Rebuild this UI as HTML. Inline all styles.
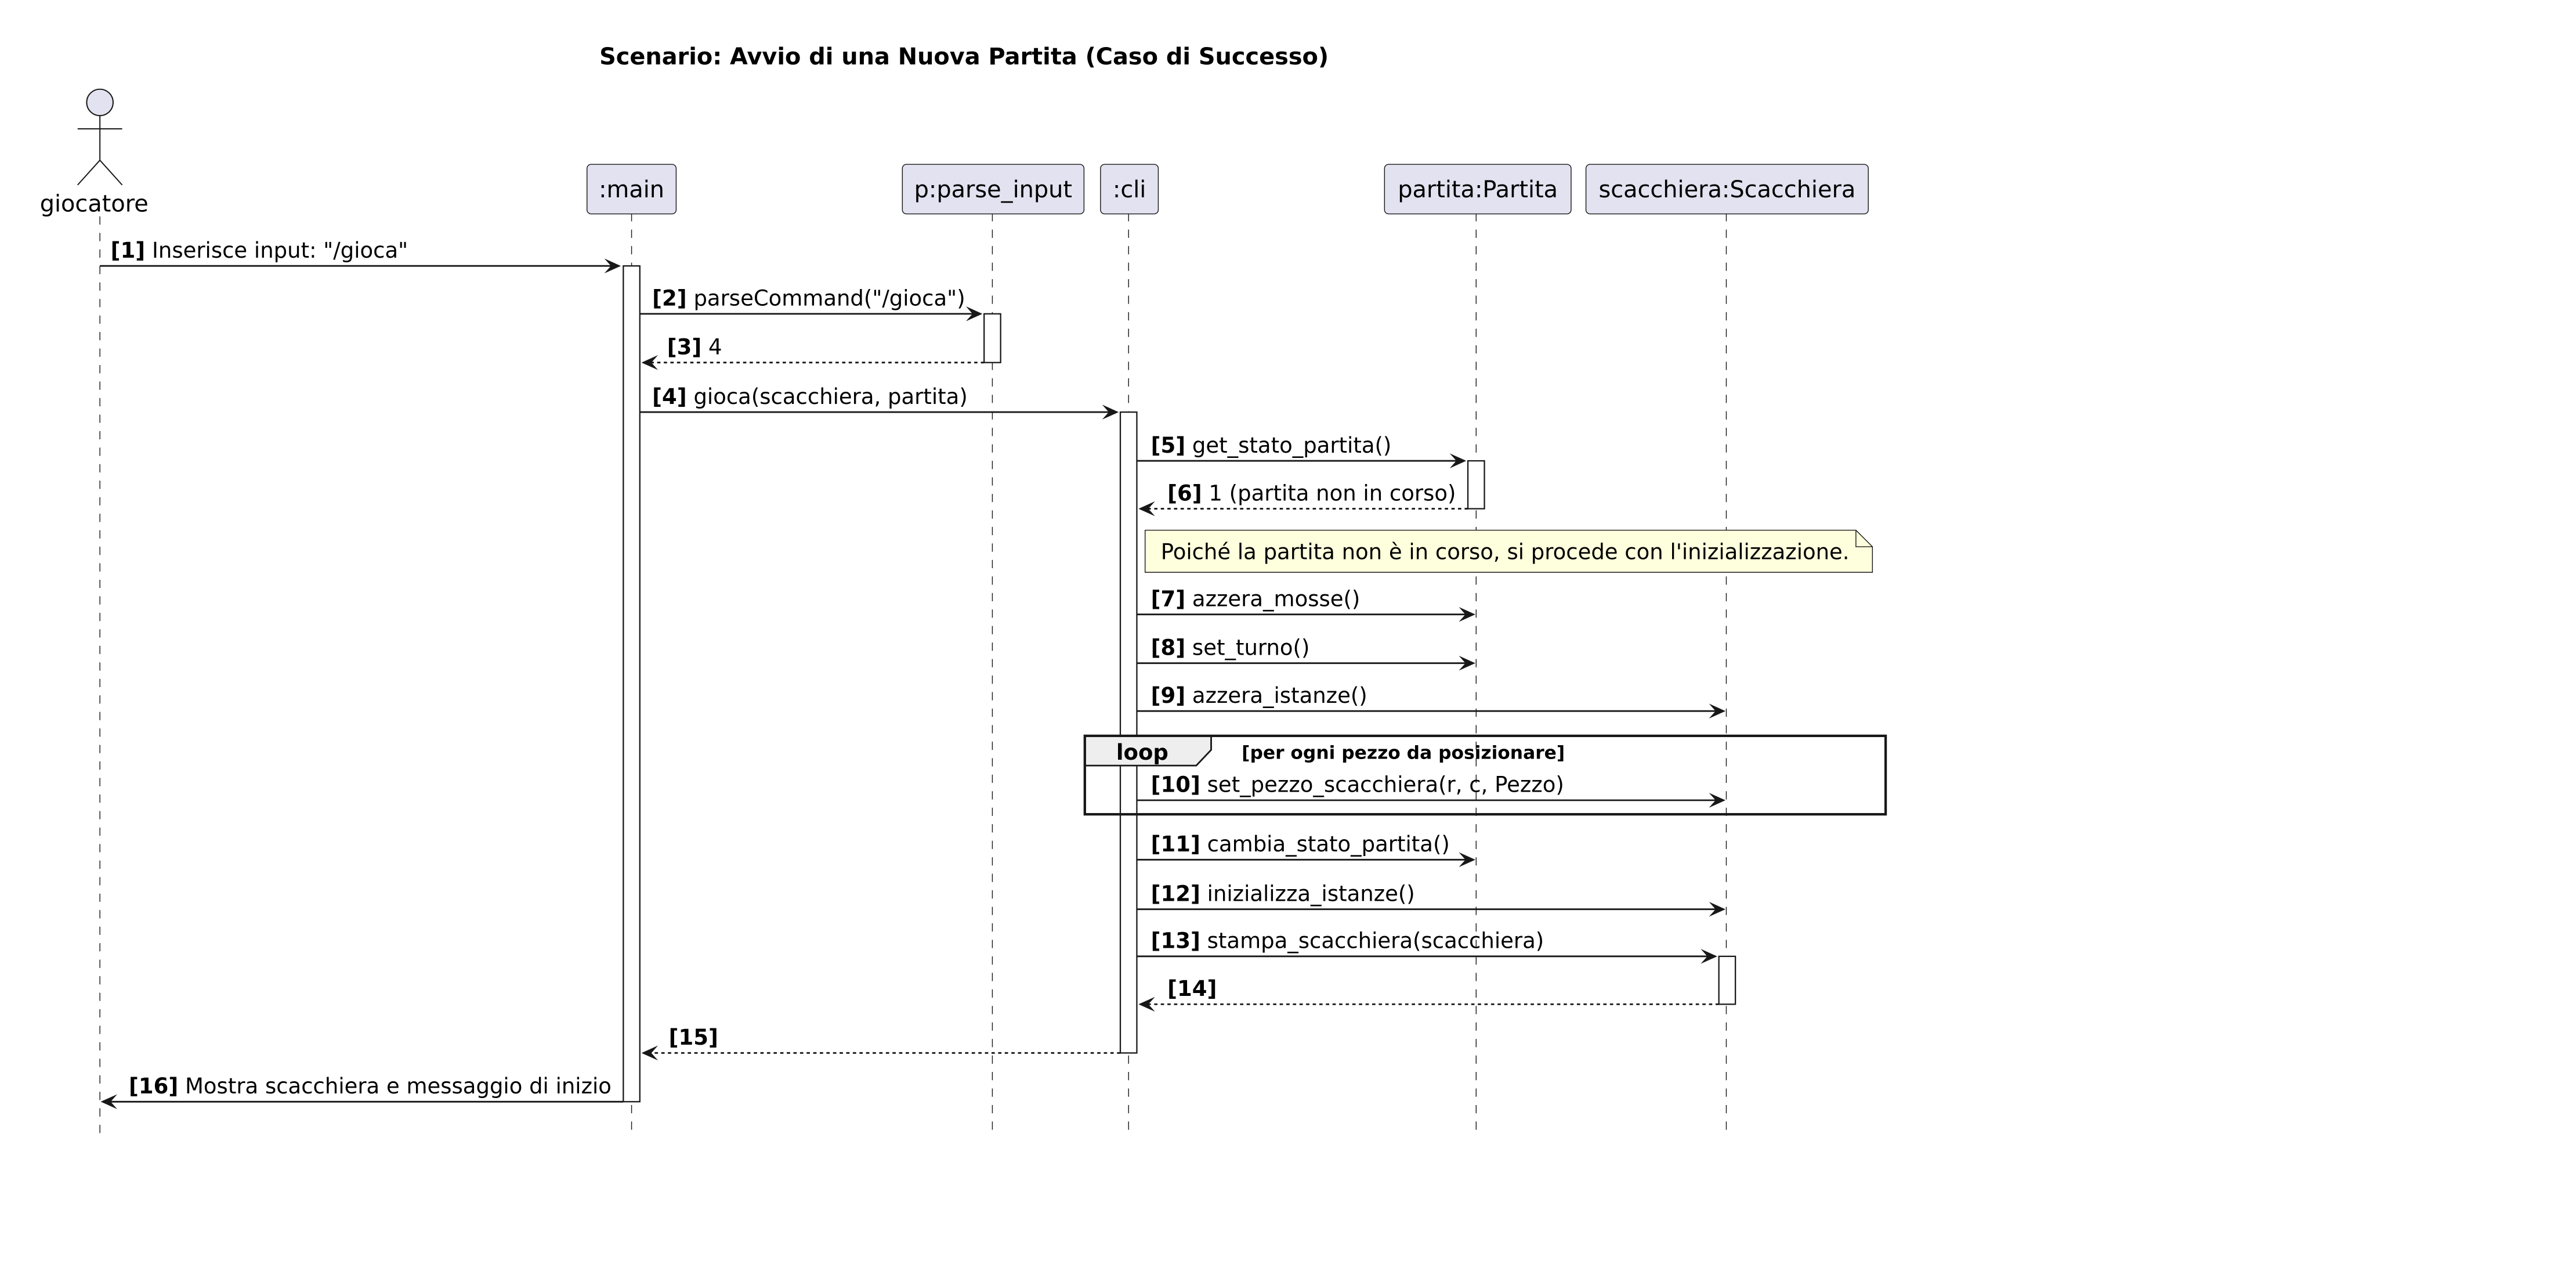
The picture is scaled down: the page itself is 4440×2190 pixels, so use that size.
<!DOCTYPE html>
<html><head><meta charset="utf-8"><style>
html,body{margin:0;padding:0;background:#fff;}
svg{display:block;}
text{font-family:"DejaVu Sans","Liberation Sans",sans-serif;fill:#000;}
</style></head><body>
<svg width="4440" height="2190" viewBox="0 0 1560.1 769.5" preserveAspectRatio="none" xmlns="http://www.w3.org/2000/svg">
<defs>
<g id="ahR"><polygon points="-10,-4.5 0,0 -10,4.5 -6,0" fill="#181818"/></g>
<g id="ahL"><polygon points="10,-4.5 0,0 10,4.5 6,0" fill="#181818"/></g>
</defs>
<rect width="1560.1" height="769.5" fill="#fff"/>
<text x="363" y="39" font-size="14" font-weight="bold">Scenario: Avvio di una Nuova Partita (Caso di Successo)</text>

<!-- lifelines -->
<g stroke="#181818" stroke-width="0.5" stroke-dasharray="5,5" fill="none">
<line x1="60.5" y1="131" x2="60.5" y2="686"/>
<line x1="382.5" y1="129" x2="382.5" y2="686"/>
<line x1="601" y1="129" x2="601" y2="686"/>
<line x1="683.5" y1="129" x2="683.5" y2="686"/>
<line x1="894" y1="129" x2="894" y2="686"/>
<line x1="1045.5" y1="129" x2="1045.5" y2="686"/>
</g>

<!-- actor -->
<g stroke="#181818" stroke-width="0.7" fill="none">
<circle cx="60.5" cy="62" r="8" fill="#E2E2F0"/>
<line x1="60.5" y1="70" x2="60.5" y2="97"/>
<line x1="47" y1="78" x2="74" y2="78"/>
<line x1="60.5" y1="97" x2="47" y2="112"/>
<line x1="60.5" y1="97" x2="74" y2="112"/>
</g>
<text x="57" y="128" font-size="14" text-anchor="middle">giocatore</text>

<!-- participants -->
<g fill="#E2E2F0" stroke="#181818" stroke-width="0.5">
<rect x="355.5" y="99.5" width="54" height="30" rx="2.5"/>
<rect x="546.5" y="99.5" width="110" height="30" rx="2.5"/>
<rect x="666.5" y="99.5" width="35" height="30" rx="2.5"/>
<rect x="838.5" y="99.5" width="113" height="30" rx="2.5"/>
<rect x="960.5" y="99.5" width="171" height="30" rx="2.5"/>
</g>
<g font-size="14" text-anchor="middle">
<text x="382.5" y="119.5">:main</text>
<text x="601.5" y="119.5">p:parse_input</text>
<text x="684" y="119.5">:cli</text>
<text x="895" y="119.5">partita:Partita</text>
<text x="1046" y="119.5">scacchiera:Scacchiera</text>
</g>

<!-- activations -->
<g fill="#fff" stroke="#181818" stroke-width="0.8">
<rect x="377.5" y="161" width="10" height="506"/>
<rect x="596" y="190" width="10" height="29.5"/>
<rect x="678.5" y="249.5" width="10" height="388"/>
<rect x="889" y="279" width="10" height="29"/>
<rect x="1041" y="579" width="10" height="29"/>
</g>

<!-- note -->
<path d="M693.5,321 L1124,321 L1134,331 L1134,346.5 L693.5,346.5 Z" fill="#FEFFDD" stroke="#181818" stroke-width="0.5"/>
<path d="M1124,321 L1124,331 L1134,331" fill="none" stroke="#181818" stroke-width="0.5"/>
<text x="703" y="338.5" font-size="13">Poiché la partita non è in corso, si procede con l'inizializzazione.</text>

<!-- loop frame -->
<path d="M657,445.5 L733.5,445.5 L733.5,454 L724.5,463.5 L657,463.5 Z" fill="#EEEEEE" stroke="#181818" stroke-width="1"/>
<rect x="657" y="445.5" width="485" height="47.5" fill="none" stroke="#181818" stroke-width="1.5"/>
<text x="676" y="460" font-size="13" font-weight="bold">loop</text>
<text x="752" y="459.5" font-size="11" font-weight="bold">[per ogni pezzo da posizionare]</text>

<!-- messages -->
<g stroke="#181818" stroke-width="1" fill="none">
<line x1="60.5" y1="161" x2="375" y2="161"/>
<line x1="387.5" y1="190" x2="594" y2="190"/>
<line x1="596" y1="219.5" x2="390" y2="219.5" stroke-dasharray="2,2"/>
<line x1="387.5" y1="249.5" x2="676" y2="249.5"/>
<line x1="688.5" y1="279" x2="887" y2="279"/>
<line x1="889" y1="308" x2="691" y2="308" stroke-dasharray="2,2"/>
<line x1="688.5" y1="372" x2="892" y2="372"/>
<line x1="688.5" y1="401.5" x2="892" y2="401.5"/>
<line x1="688.5" y1="430.5" x2="1043" y2="430.5"/>
<line x1="688.5" y1="484.5" x2="1043" y2="484.5"/>
<line x1="688.5" y1="520.5" x2="892" y2="520.5"/>
<line x1="688.5" y1="550.5" x2="1043" y2="550.5"/>
<line x1="688.5" y1="579" x2="1039" y2="579"/>
<line x1="1041" y1="608" x2="691" y2="608" stroke-dasharray="2,2"/>
<line x1="678.5" y1="637.5" x2="390" y2="637.5" stroke-dasharray="2,2"/>
<line x1="377.5" y1="667" x2="62" y2="667"/>
</g>
<use href="#ahR" x="376" y="161"/>
<use href="#ahR" x="595" y="190"/>
<use href="#ahL" x="388.5" y="219.5"/>
<use href="#ahR" x="677.5" y="249.5"/>
<use href="#ahR" x="888" y="279"/>
<use href="#ahL" x="689.5" y="308"/>
<use href="#ahR" x="893.5" y="372"/>
<use href="#ahR" x="893.5" y="401.5"/>
<use href="#ahR" x="1045" y="430.5"/>
<use href="#ahR" x="1045" y="484.5"/>
<use href="#ahR" x="893.5" y="520.5"/>
<use href="#ahR" x="1045" y="550.5"/>
<use href="#ahR" x="1040" y="579"/>
<use href="#ahL" x="689.5" y="608"/>
<use href="#ahL" x="388.5" y="637.5"/>
<use href="#ahL" x="61" y="667"/>

<g font-size="13">
<text x="67" y="156"><tspan font-weight="bold">[1]</tspan> Inserisce input: "/gioca"</text>
<text x="395" y="185"><tspan font-weight="bold">[2]</tspan> parseCommand("/gioca")</text>
<text x="404" y="214.5"><tspan font-weight="bold">[3]</tspan> 4</text>
<text x="395" y="244.5"><tspan font-weight="bold">[4]</tspan> gioca(scacchiera, partita)</text>
<text x="697" y="274"><tspan font-weight="bold">[5]</tspan> get_stato_partita()</text>
<text x="707" y="303"><tspan font-weight="bold">[6]</tspan> 1 (partita non in corso)</text>
<text x="697" y="367"><tspan font-weight="bold">[7]</tspan> azzera_mosse()</text>
<text x="697" y="396.5"><tspan font-weight="bold">[8]</tspan> set_turno()</text>
<text x="697" y="425.5"><tspan font-weight="bold">[9]</tspan> azzera_istanze()</text>
<text x="697" y="479.5"><tspan font-weight="bold">[10]</tspan> set_pezzo_scacchiera(r, c, Pezzo)</text>
<text x="697" y="515.5"><tspan font-weight="bold">[11]</tspan> cambia_stato_partita()</text>
<text x="697" y="545.5"><tspan font-weight="bold">[12]</tspan> inizializza_istanze()</text>
<text x="697" y="574"><tspan font-weight="bold">[13]</tspan> stampa_scacchiera(scacchiera)</text>
<text x="707" y="603" font-weight="bold">[14]</text>
<text x="405" y="632.5" font-weight="bold">[15]</text>
<text x="78" y="662"><tspan font-weight="bold">[16]</tspan> Mostra scacchiera e messaggio di inizio</text>
</g>
</svg>
</body></html>
